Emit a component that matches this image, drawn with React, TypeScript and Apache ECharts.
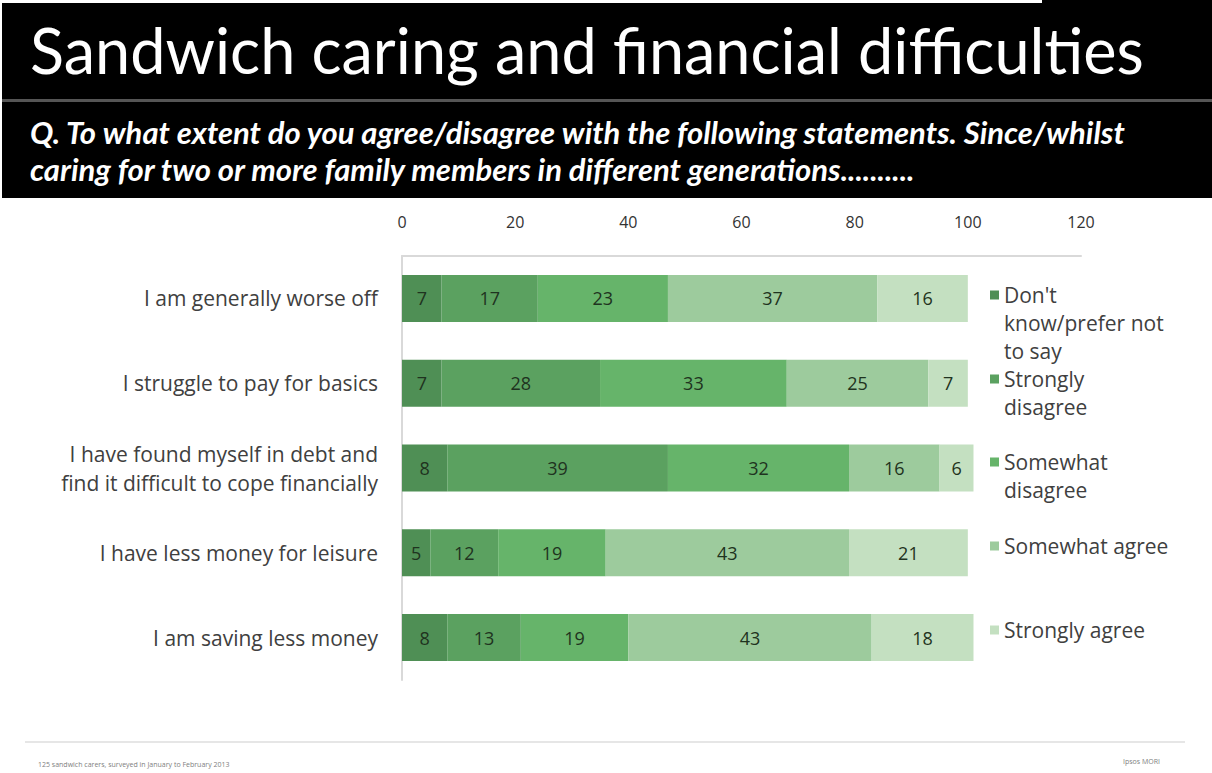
import React, { useEffect, useRef } from "react";
import * as echarts from "echarts";

const categories = [
  "I am generally worse off",
  "I struggle to pay for basics",
  "I have found myself in debt and\nfind it difficult to cope financially",
  "I have less money for leisure",
  "I am saving less money",
];
const seriesNames = [
  "Don't know/prefer not to say",
  "Strongly disagree",
  "Somewhat disagree",
  "Somewhat agree",
  "Strongly agree",
];
const legendLabels = [
  "Don't\nknow/prefer not\nto say",
  "Strongly\ndisagree",
  "Somewhat\ndisagree",
  "Somewhat agree",
  "Strongly agree",
];
const dontKnow = [7, 7, 8, 5, 8];
const stronglyDisagree = [17, 28, 39, 12, 13];
const somewhatDisagree = [23, 33, 32, 19, 19];
const somewhatAgree = [37, 25, 16, 43, 43];
const stronglyAgree = [16, 7, 6, 21, 18];
const seriesValues = [dontKnow, stronglyDisagree, somewhatDisagree, somewhatAgree, stronglyAgree];
const colors = ["#4f8f55", "#5ba160", "#66b46a", "#9dcb9d", "#c4e0c1"];

const titleText = "Sandwich caring and financial difficulties";
const subtitleText =
  "Q. To what extent do you agree/disagree with the following statements. Since/whilst\ncaring for two or more family members in different generations..........";
const footLeft = "125 sandwich carers, surveyed in January to February 2013";
const footRight = "Ipsos MORI";

export default function App() {
  const ref = useRef<HTMLDivElement>(null);
  useEffect(() => {
    const chart = echarts.init(ref.current!, null, { renderer: "svg" });
    const L = 28;
    const firstLineCenters = [295, 379, 462, 546, 630];
    const legends = seriesNames.map((name, i) => {
      const n = legendLabels[i].split("\n").length;
      const h = n * L;
      const a = L / 2 - 4.5;
      const b = L / 2 + 4.5;
      const icon =
        n === 1
          ? "rect"
          : `path://M0,0L0.01,0L0,0.01Z M0,${a}L9,${a}L9,${b}L0,${b}Z M0,${h}L0.01,${h}L0,${h - 0.01}Z`;
      return {
        data: [name],
        left: 990,
        top: firstLineCenters[i] - L / 2,
        orient: "vertical",
        padding: 0,
        itemWidth: 9,
        itemHeight: n === 1 ? 9 : h,
        icon,
        symbolKeepAspect: false,
        selectedMode: false,
        formatter: () => legendLabels[i],
        textStyle: {
          fontFamily: "Open Sans",
          fontSize: 21,
          color: "#404040",
          lineHeight: L,
        },
      };
    });
    chart.setOption({
      animation: false,
      backgroundColor: "#ffffff",
      title: [
        {
          text: titleText,
          left: 30,
          top: 18,
          padding: 0,
          textStyle: { color: "#ffffff", fontFamily: "Lato", fontSize: 63, fontWeight: "normal" },
        },
        {
          text: subtitleText,
          left: 30,
          top: 113,
          padding: 0,
          textStyle: {
            color: "#ffffff",
            fontFamily: "Lato",
            fontSize: 31,
            fontWeight: "bold",
            fontStyle: "italic",
            lineHeight: 37,
          },
        },
      ],
      graphic: [
        { type: "rect", z: -10, shape: { x: 2, y: 3, width: 1210, height: 195 }, style: { fill: "#000000" } },
        { type: "rect", z: -10, shape: { x: 1042, y: 0, width: 170, height: 4 }, style: { fill: "#000000" } },
        { type: "rect", z: -9, shape: { x: 2, y: 99, width: 1210, height: 3 }, style: { fill: "#555555" } },
        { type: "rect", z: -9, shape: { x: 25, y: 741, width: 1160, height: 2 }, style: { fill: "#e6e6e6" } },
        {
          type: "text",
          left: 38,
          top: 761,
          style: { text: footLeft, fill: "#808080", font: "7px 'Open Sans'" },
        },
        {
          type: "text",
          right: 52,
          top: 758,
          style: { text: footRight, fill: "#808080", font: "7px 'Open Sans'" },
        },
      ],
      legend: legends,
      grid: { left: 402, right: 131, top: 256, bottom: 93, containLabel: false },
      xAxis: {
        type: "value",
        position: "top",
        min: 0,
        max: 120,
        interval: 20,
        axisLine: { show: true, lineStyle: { color: "#d9d9d9", width: 2 } },
        axisTick: { show: false },
        splitLine: { show: false },
        axisLabel: { margin: 26, fontFamily: "Open Sans", fontSize: 16, color: "#333333" },
      },
      yAxis: {
        type: "category",
        inverse: true,
        data: categories,
        axisLine: { show: true, lineStyle: { color: "#d9d9d9", width: 2 } },
        axisTick: { show: false },
        axisLabel: {
          margin: 24,
          fontFamily: "Open Sans",
          fontSize: 21,
          color: "#404040",
          lineHeight: 29,
          align: "right",
        },
      },
      series: seriesNames.map((name, i) => ({
        name,
        type: "bar",
        stack: "total",
        barWidth: 47,
        data: seriesValues[i],
        itemStyle: { color: colors[i] },
        label: {
          show: true,
          position: "inside",
          fontFamily: "Open Sans",
          fontSize: 18,
          color: "#1f3320",
        },
      })),
    });
    return () => chart.dispose();
  }, []);
  return (
    <div
      ref={ref}
      style={{ position: "fixed", left: 0, top: 0, width: 1212, height: 773 }}
    />
  );
}
